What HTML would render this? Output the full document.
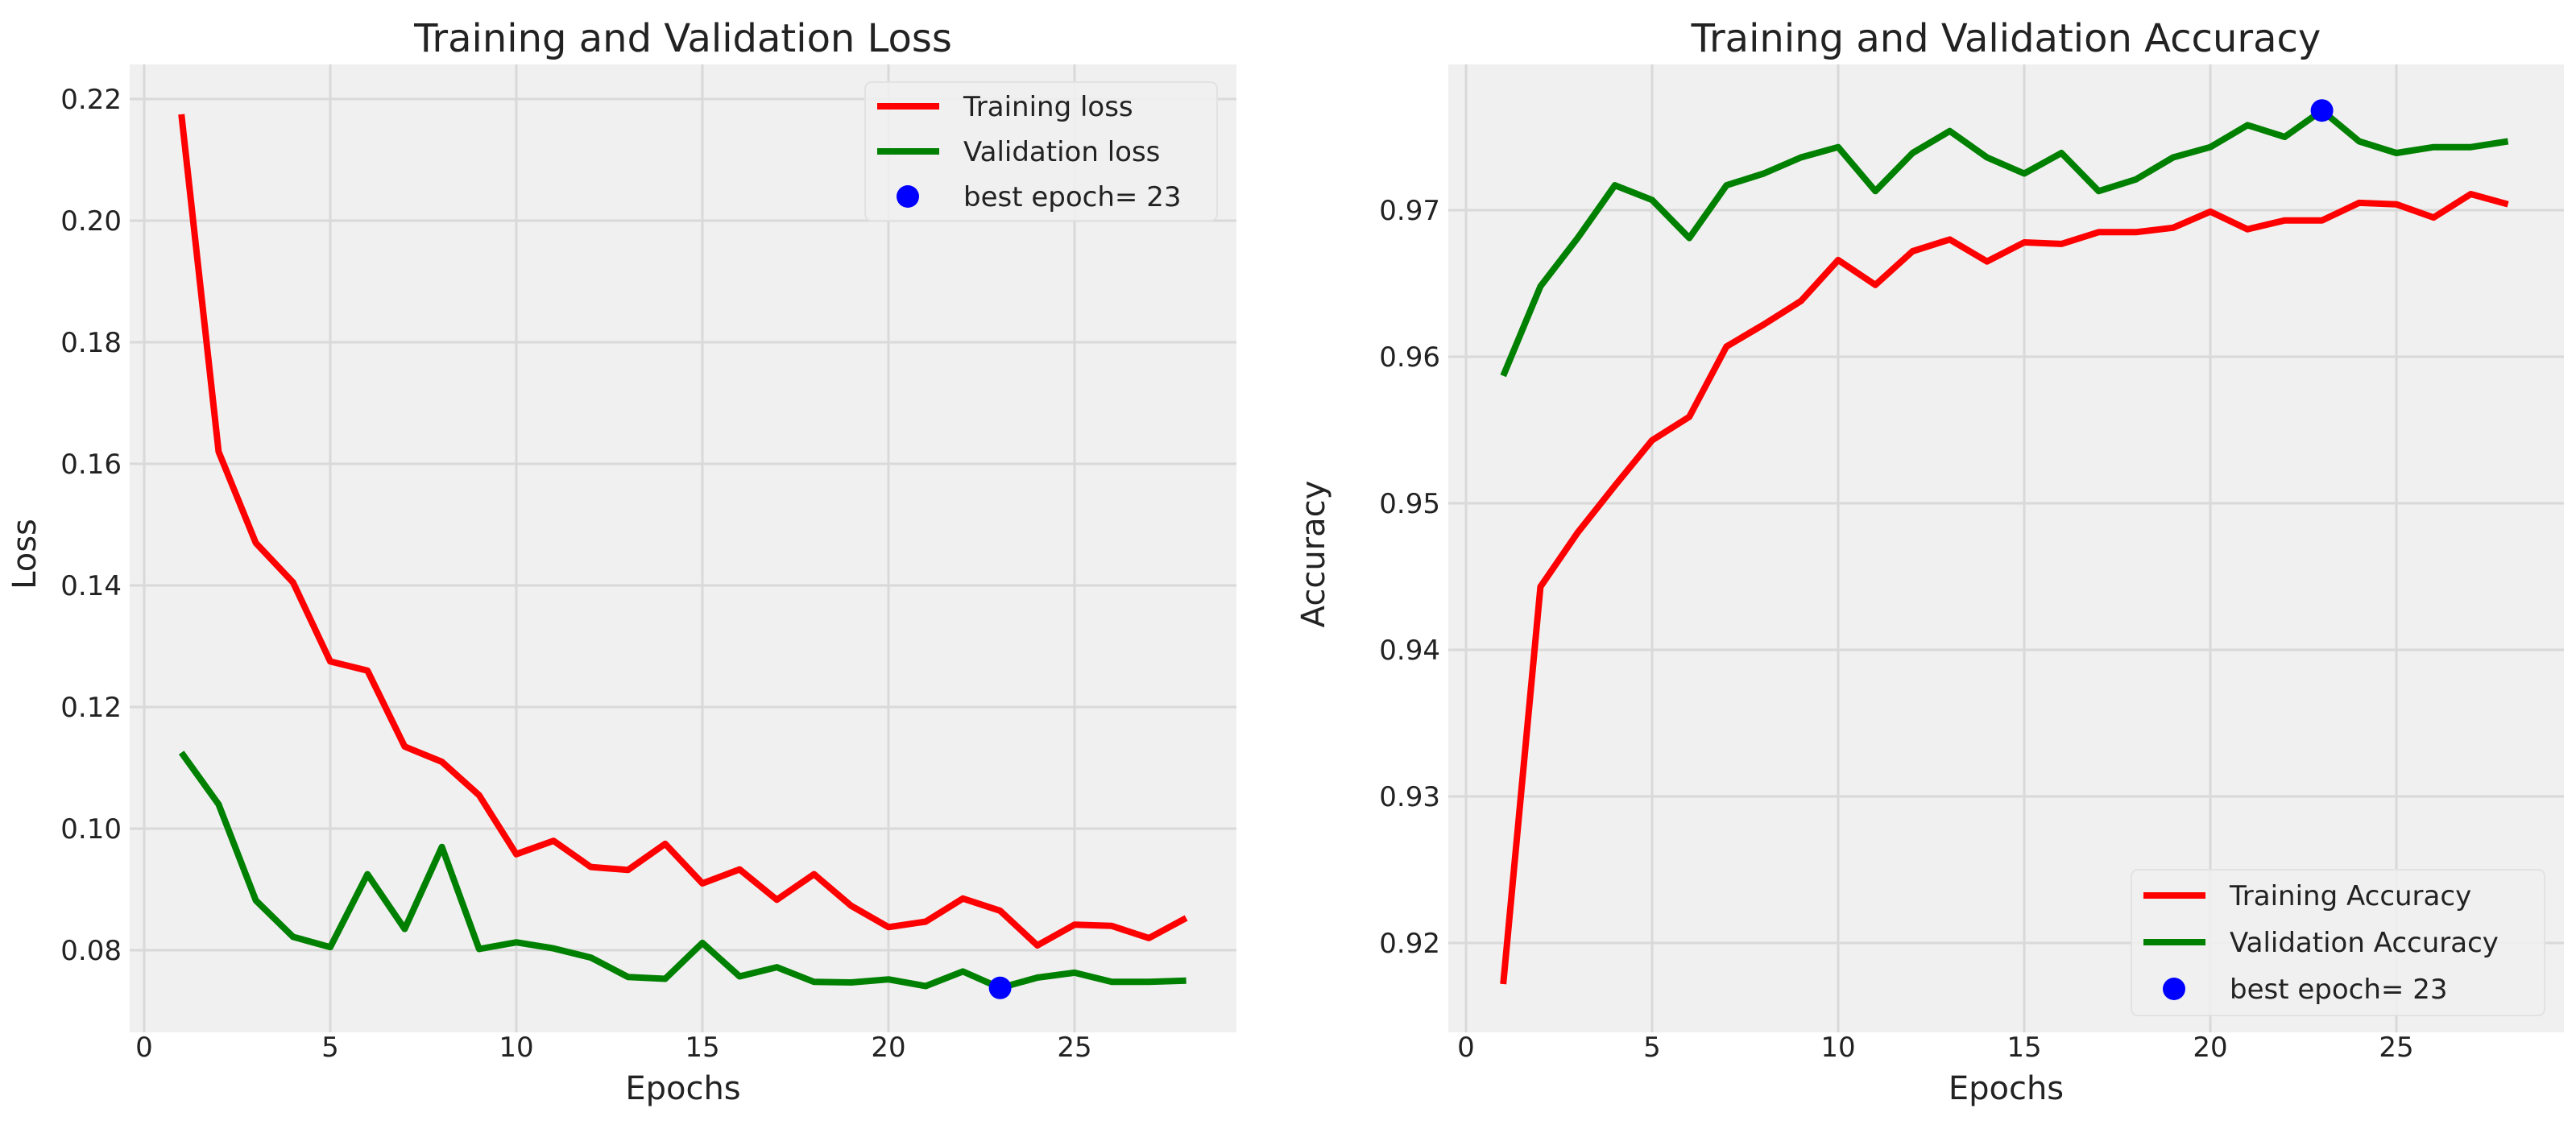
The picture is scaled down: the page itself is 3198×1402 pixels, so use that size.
<!DOCTYPE html>
<html><head><meta charset="utf-8"><style>
html,body{margin:0;padding:0;background:#fff;}
svg{display:block;font-family:"DejaVu Sans","Liberation Sans",sans-serif;}
</style></head><body>
<svg id="fig" width="3198" height="1402" viewBox="0 0 3198 1402" xmlns="http://www.w3.org/2000/svg">
<rect width="3198" height="1402" fill="#fff"/>
</svg>
<script>
const epochs = [1,2,3,4,5,6,7,8,9,10,11,12,13,14,15,16,17,18,19,20,21,22,23,24,25,26,27,28];
const trainLoss = [0.2175,0.162,0.147,0.1405,0.1275,0.126,0.1135,0.111,0.1055,0.0958,0.098,0.0937,0.0932,0.0975,0.091,0.0933,0.0883,0.0925,0.0873,0.0838,0.0847,0.0885,0.0865,0.0808,0.0842,0.084,0.082,0.0853];
const valLoss = [0.1125,0.104,0.0882,0.0822,0.0805,0.0925,0.0835,0.097,0.0802,0.0813,0.0803,0.0788,0.0756,0.0753,0.0812,0.0757,0.0772,0.0748,0.0747,0.0752,0.0741,0.0765,0.0738,0.0755,0.0763,0.0748,0.0748,0.075];
const trainAcc = [0.9172,0.9443,0.948,0.9512,0.9543,0.9559,0.9607,0.9622,0.9638,0.9666,0.9649,0.9672,0.968,0.9665,0.9678,0.9677,0.9685,0.9685,0.9688,0.9699,0.9687,0.9693,0.9693,0.9705,0.9704,0.9695,0.9711,0.9704];
const valAcc = [0.9587,0.9648,0.9681,0.9717,0.9707,0.9681,0.9717,0.9725,0.9736,0.9743,0.9713,0.9739,0.9754,0.9736,0.9725,0.9739,0.9713,0.9721,0.9736,0.9743,0.9758,0.975,0.9768,0.9747,0.9739,0.9743,0.9743,0.9747];
const xTicks = [0,5,10,15,20,25];
const lossTicks = [0.08,0.10,0.12,0.14,0.16,0.18,0.20,0.22];
const accTicks = [0.92,0.93,0.94,0.95,0.96,0.97];
const bestEpoch = 23;

const NS = "http://www.w3.org/2000/svg";
const svg = document.getElementById('fig');
function mk(tag, attrs, parent, text){
  const e = document.createElementNS(NS, tag);
  for (const k in attrs) e.setAttribute(k, attrs[k]);
  if (text !== undefined) e.textContent = text;
  (parent || svg).appendChild(e);
  return e;
}

function panel(cfg){
  const g = mk('g', {});
  
  
  const xs = v => cfg.x0 + v * cfg.xStep;
  const ys = v => cfg.yRef + (cfg.vRef - v) * cfg.yScale;
  const bg = mk('rect', {x:cfg.left, y:80, width:cfg.right-cfg.left, height:1282-80, fill:'#f0f0f0'}, g);
  
  
  xTicks.forEach(t => {
    const l = mk('line', {x1:xs(t), x2:xs(t), y1:80, y2:1282, stroke:'#d9d9d9', 'stroke-width':3}, g);
    
    
    const tx = mk('text', {x:xs(t), y:1312, 'font-size':34, fill:'#222', 'text-anchor':'middle'}, g, String(t));
    
    
  });
  cfg.ticks.forEach(t => {
    const y = ys(t);
    const l = mk('line', {x1:cfg.left, x2:cfg.right, y1:y, y2:y, stroke:'#d9d9d9', 'stroke-width':3}, g);
    
    
    const tx = mk('text', {x:cfg.left-10, y:y+12, 'font-size':34, fill:'#222', 'text-anchor':'end'}, g, t.toFixed(2));
    
    
  });
  const series = [[cfg.train,'#ff0000','training-line'],[cfg.val,'#008000','validation-line']];
  series.forEach(s => {
    const pts = epochs.map((e,i) => xs(e).toFixed(1)+','+ys(s[0][i]).toFixed(1)).join(' ');
    const p = mk('polyline', {points:pts, fill:'none', stroke:s[1], 'stroke-width':8, 'stroke-linejoin':'round'}, g);
    
    
  });
  const bi = epochs.indexOf(bestEpoch);
  const c = mk('circle', {cx:xs(bestEpoch), cy:ys(cfg.val[bi]), r:14, fill:'#0000ff'}, g);
  
  
  const mid = (cfg.left+cfg.right)/2;
  const ti = mk('text', {x:mid, y:64, 'font-size':48, fill:'#222', 'text-anchor':'middle'}, g, cfg.title);
  
  
  const xl = mk('text', {x:mid, y:1365, 'font-size':40, fill:'#222', 'text-anchor':'middle'}, g, 'Epochs');
  
  
  const yl = mk('text', {x:0, y:0, 'font-size':40, fill:'#222', 'text-anchor':'middle', transform:'translate('+cfg.ylx+',688) rotate(-90)'}, g, cfg.ylabel);
  
  
  const L = cfg.legend;
  const lg = mk('g', {}, g);
  
  
  mk('rect', {x:L.x, y:L.y, width:L.w, height:L.h, rx:8, fill:'#f0f0f0', 'fill-opacity':0.85, stroke:'#e2e2e2', 'stroke-width':2}, lg);
  const items = [['line','#ff0000',L.labels[0]],['line','#008000',L.labels[1]],['dot','#0000ff','best epoch= 23']];
  items.forEach((it,i) => {
    const y = L.y + L.first + i*L.gap;
    const eg = mk('g', {}, lg);
    
    
    if (it[0]==='line') mk('line', {x1:L.x+15, x2:L.x+92, y1:y, y2:y, stroke:it[1], 'stroke-width':8}, eg);
    else mk('circle', {cx:L.x+53, cy:y, r:14, fill:it[1]}, eg);
    mk('text', {x:L.x+122, y:y+12, 'font-size':34, fill:'#222'}, eg, it[2]);
  });
}

panel({name:'loss-chart', left:161, right:1535, x0:179, xStep:46.2, yRef:123, vRef:0.22, yScale:151/0.02,
  ticks:lossTicks, train:trainLoss, val:valLoss, title:'Training and Validation Loss', ylabel:'Loss', ylx:44,
  legend:{x:1074, y:102, w:437, h:172, first:30, gap:56, labels:['Training loss','Validation loss']}});
panel({name:'accuracy-chart', left:1798, right:3183, x0:1820, xStep:46.2, yRef:261, vRef:0.97, yScale:182/0.01,
  ticks:accTicks, train:trainAcc, val:valAcc, title:'Training and Validation Accuracy', ylabel:'Accuracy', ylx:1644,
  legend:{x:2646, y:1080, w:513, h:181, first:32, gap:58, labels:['Training Accuracy','Validation Accuracy']}});
</script>
</body></html>
